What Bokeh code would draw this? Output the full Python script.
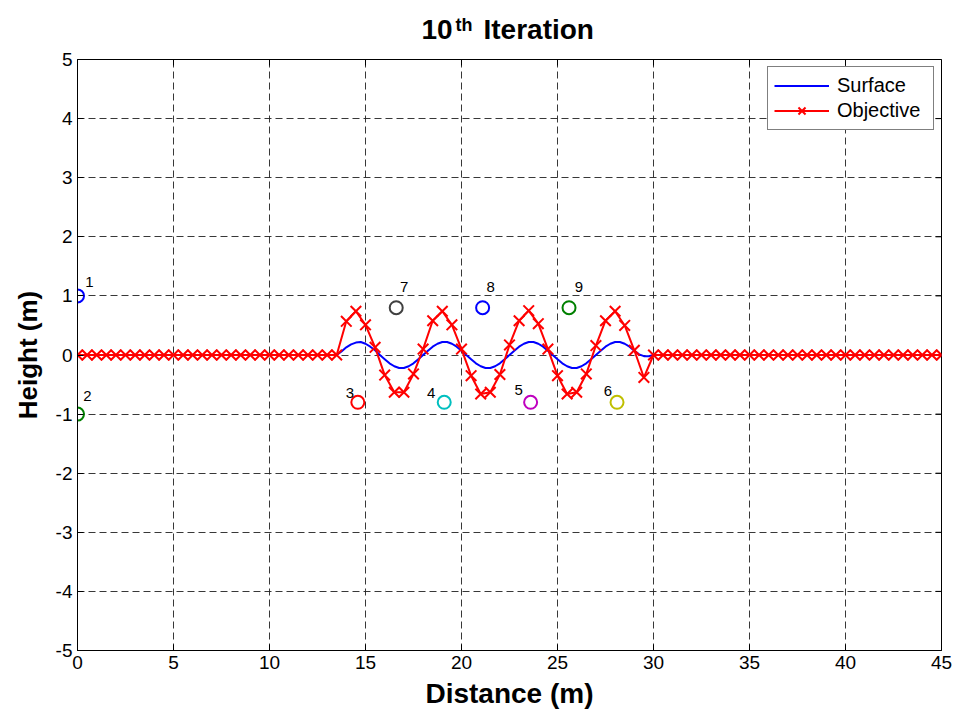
import numpy as np
from bokeh.plotting import figure
from bokeh.layouts import column
from bokeh.models import (ColumnDataSource, Range1d, Legend, LegendItem, FixedTicker)
from bokeh.core.properties import value
from bokeh.embed import file_html
from bokeh.resources import INLINE

FONT = "Liberation Sans"

# ---------------- data ----------------
# Objective profile, sampled every 0.5 m from 0 to 45 m
obj_x = [round(0.5 * i, 2) for i in range(91)]
obj_flat_left = [0.0] * 28          # 0 .. 13.5 m
obj_wave = [0.57, 0.74, 0.51, 0.13, -0.34, -0.63, -0.63, -0.32,
            0.10, 0.58, 0.74, 0.51, 0.10, -0.35, -0.66, -0.63,
            -0.33, 0.17, 0.58, 0.75, 0.53, 0.10, -0.35, -0.66,
            -0.63, -0.32, 0.16, 0.58, 0.74, 0.50, 0.08, -0.38]   # 14 .. 29.5 m
obj_flat_right = [0.0] * 31         # 30 .. 45 m
obj_y = obj_flat_left + obj_wave + obj_flat_right

# Surface profile (fine samples every 0.25 m between 13.5 and 30 m)
surf_wave_x = [round(13.5 + 0.25 * i, 2) for i in range(67)]
surf_wave_y = [0.00, 0.06, 0.13, 0.18, 0.21, 0.22, 0.19, 0.14, 0.08, 0.00,
               -0.07, -0.14, -0.19, -0.22, -0.22, -0.19, -0.14, -0.07, 0.00,
               0.07, 0.14, 0.19, 0.22, 0.22, 0.19, 0.14, 0.07, 0.00,
               -0.07, -0.14, -0.19, -0.22, -0.22, -0.19, -0.14, -0.07, 0.00,
               0.07, 0.14, 0.19, 0.22, 0.22, 0.19, 0.14, 0.07, 0.00,
               -0.07, -0.14, -0.19, -0.22, -0.22, -0.19, -0.14, -0.07, 0.00,
               0.07, 0.14, 0.19, 0.22, 0.22, 0.19, 0.14, 0.07, 0.01,
               -0.02, -0.02, 0.00]
surf_x = [0.0] + surf_wave_x + [45.0]
surf_y = [0.0] + surf_wave_y + [0.0]

# Sensors
sens_x = [0.0, 0.0, 14.6, 19.1, 23.6, 28.1, 16.6, 21.1, 25.6]
sens_y = [1.0, -1.0, -0.8, -0.8, -0.8, -0.8, 0.8, 0.8, 0.8]
sens_label = ["1", "2", "3", "4", "5", "6", "7", "8", "9"]
sens_color = ["#0000ff", "#008000", "#ff0000", "#00bfbf", "#bf00bf",
              "#bfbf00", "#404040", "#0000ff", "#008000"]
lab_dx = [12, 10, -8, -13, -12, -9, 8, 8, 10]     # pixel offsets of number labels
lab_dy = [-14, -18, -9, -9, -12, -11, -21, -21, -21]

x_ticks = [0, 5, 10, 15, 20, 25, 30, 35, 40, 45]
y_ticks = [-5, -4, -3, -2, -1, 0, 1, 2, 3, 4, 5]
y_tick_labels = ["-5", "-4", "-3", "-2", "-1", "0", "1", "2", "3", "4", "5"]

X0, X1, Y0, Y1 = 0, 45, -5, 5

# ---------------- title strip ----------------
TH = 48
tf = figure(width=959, height=TH, output_backend="svg", toolbar_location=None,
            title=None, x_range=Range1d(77, 941), y_range=Range1d(0, TH),
            x_axis_type=None, y_axis_type=None,
            min_border=0, background_fill_color="white", border_fill_color="white")
tf.outline_line_color = None
tf.xgrid.visible = False
tf.ygrid.visible = False
tf.text(x=[421], y=[19], text=["10"], text_font=value(FONT), text_font_size="28px",
        text_font_style="bold", text_color="black", text_align="left",
        text_baseline="alphabetic")
tf.text(x=[455], y=[24], text=["th"], text_font=value(FONT), text_font_size="18px",
        text_font_style="bold", text_color="black", text_align="left",
        text_baseline="alphabetic")
tf.text(x=[483], y=[19], text=["Iteration"], text_font=value(FONT),
        text_font_size="28px", text_font_style="bold", text_color="black",
        text_align="left", text_baseline="alphabetic")

# ---------------- main figure ----------------
p = figure(width=959, height=715 - TH, output_backend="svg", toolbar_location=None,
           title=None, x_range=Range1d(X0, X1), y_range=Range1d(Y0, Y1),
           min_border_left=77, min_border_right=18, min_border_top=59 - TH,
           min_border_bottom=65, background_fill_color="white",
           border_fill_color="white")
p.outline_line_color = "black"
p.outline_line_width = 1

for ax in (p.xaxis[0], p.yaxis[0]):
    ax.major_tick_in = 6
    ax.major_tick_out = 0
    ax.minor_tick_line_color = None
    ax.axis_line_color = "black"
    ax.major_tick_line_color = "black"
    ax.major_label_text_font = FONT
    ax.major_label_text_font_size = "19px"
    ax.major_label_text_color = "black"
    ax.axis_label_text_font = FONT
    ax.axis_label_text_font_style = "bold"
    ax.axis_label_text_color = "black"

p.xaxis[0].ticker = FixedTicker(ticks=x_ticks)
p.yaxis[0].ticker = FixedTicker(ticks=y_ticks)
p.yaxis[0].major_label_overrides = {t: s for t, s in zip(y_ticks, y_tick_labels)}
p.xaxis[0].axis_label = "Distance (m)"
p.yaxis[0].axis_label = "Height (m)"
p.xaxis[0].axis_label_text_font_size = "28px"
p.yaxis[0].axis_label_text_font_size = "26px"
p.xaxis[0].major_label_standoff = 5
p.yaxis[0].major_label_standoff = 5
p.xaxis[0].axis_label_standoff = 6
p.yaxis[0].axis_label_standoff = 10

p.xgrid.ticker = FixedTicker(ticks=x_ticks)
p.ygrid.ticker = FixedTicker(ticks=y_ticks)
for g in (p.xgrid[0], p.ygrid[0]):
    g.grid_line_color = "#222222"
    g.grid_line_dash = "7 4"
    g.grid_line_width = 1
    g.grid_line_alpha = 0.9

# inward ticks on the top and right edges of the box (half of each dash is clipped)
p.scatter(x=x_ticks, y=[Y1] * len(x_ticks), marker="dash", angle=np.pi / 2,
          size=12, line_color="black", line_width=1)
p.scatter(x=[X1] * len(y_ticks), y=y_ticks, marker="dash", size=12,
          line_color="black", line_width=1)

# ---------------- glyphs ----------------
surf_src = ColumnDataSource(dict(x=surf_x, y=surf_y))
obj_src = ColumnDataSource(dict(x=obj_x, y=obj_y))
sens_src = ColumnDataSource(dict(x=sens_x, y=sens_y, label=sens_label,
                                 color=sens_color, dx=lab_dx, dy=lab_dy))

r_surf = p.line("x", "y", source=surf_src, line_color="#0000ff", line_width=2)
r_obj_l = p.line("x", "y", source=obj_src, line_color="#ff0000", line_width=2)
r_obj_m = p.scatter("x", "y", source=obj_src, marker="x", size=15,
                    line_color="#ff0000", line_width=2)

p.scatter("x", "y", source=sens_src, marker="circle", size=13,
          fill_color=None, line_color="color", line_width=2)
p.text("x", "y", text="label", source=sens_src, x_offset="dx", y_offset="dy",
       text_font=value(FONT), text_font_size="15px", text_color="black",
       text_align="center", text_baseline="middle")

legend = Legend(items=[LegendItem(label="Surface", renderers=[r_surf]),
                       LegendItem(label="Objective", renderers=[r_obj_l, r_obj_m])],
                location="top_right")
legend.label_text_font = FONT
legend.label_text_font_size = "20px"
legend.label_text_color = "black"
legend.border_line_color = "black"
legend.border_line_width = 1
legend.background_fill_color = "white"
legend.background_fill_alpha = 1
legend.glyph_width = 55
legend.glyph_height = 25
legend.label_height = 25
legend.label_width = 90
legend.label_standoff = 8
legend.spacing = 0
legend.padding = 6
legend.margin = 7
p.add_layout(legend)

layout = column(tf, p, spacing=0)
open("out.html", "w").write(file_html(layout, INLINE))
